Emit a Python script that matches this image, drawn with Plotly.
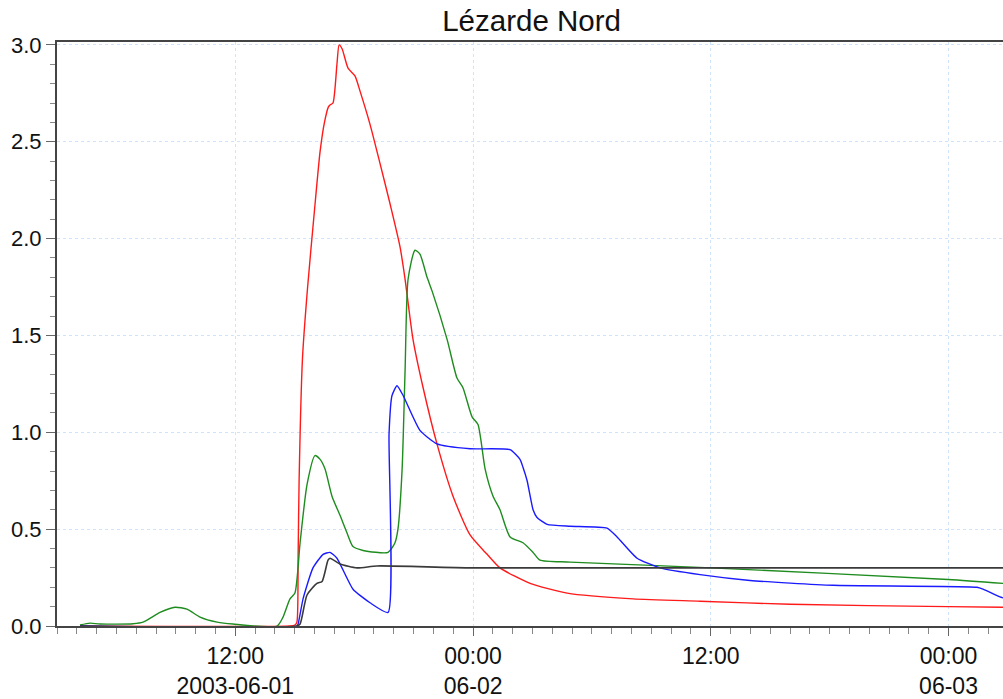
import pandas as pd
import plotly.graph_objects as go

# Hours counted from 2003-06-01 00:00
START = pd.Timestamp("2003-06-01 00:00")

red_hours = [4.16, 14.76, 15.01, 15.11, 15.17, 15.22, 15.39, 15.65, 16.0, 16.28, 16.50, 16.70,
             16.78, 16.93, 17.13, 17.24, 17.39, 17.69, 18.04, 18.30, 18.80, 19.30, 19.81, 20.31,
             20.57, 20.97, 21.48, 22.18, 22.99, 23.85, 24.71, 25.36, 26.88, 28.75, 32.08, 35.46,
             40.0, 47.98, 50.75]
red_values = [0.0, 0.0, 0.005, 0.02, 0.35, 0.75, 1.38, 1.75, 2.15, 2.45, 2.60, 2.68,
              2.69, 2.70, 2.90, 3.00, 2.98, 2.88, 2.84, 2.76, 2.59, 2.39, 2.18, 1.96,
              1.79, 1.48, 1.23, 0.94, 0.67, 0.47, 0.37, 0.30, 0.22, 0.17, 0.14, 0.128,
              0.112, 0.10, 0.097]

green_hours = [4.16, 4.67, 5.17, 6.84, 7.34, 8.20, 8.96, 9.56, 10.22, 11.08, 11.88, 14.11,
               14.41, 14.76, 15.01, 15.27, 15.62, 16.02, 16.28, 16.53, 16.88, 17.29, 17.64,
               17.94, 18.45, 19.71, 20.06, 20.21, 20.42, 20.57, 20.72, 21.07, 21.32, 21.68,
               21.93, 22.69, 23.19, 23.49, 23.95, 24.25, 24.61, 25.01, 25.36, 25.87, 26.52,
               27.03, 27.38, 28.90, 36.01, 47.98, 50.75]
green_values = [0.005, 0.015, 0.01, 0.012, 0.02, 0.07, 0.097, 0.087, 0.046, 0.02, 0.01, 0.0,
                0.046, 0.14, 0.17, 0.43, 0.73, 0.88, 0.86, 0.81, 0.67, 0.57, 0.48,
                0.41, 0.39, 0.38, 0.43, 0.50, 0.81, 1.32, 1.79, 1.94, 1.92, 1.80,
                1.73, 1.48, 1.28, 1.23, 1.08, 1.04, 0.81, 0.67, 0.60, 0.46, 0.43,
                0.38, 0.34, 0.33, 0.30, 0.24, 0.22]

blue_hours = [4.16, 15.11, 15.17, 15.42, 15.92, 16.43, 16.78, 17.13, 17.94, 18.80, 19.71, 19.76,
              19.91, 20.16, 20.47, 21.32, 22.18, 23.85, 25.87, 26.37, 26.52, 26.73, 27.03,
              27.23, 27.74, 28.90, 30.76, 31.27, 32.28, 33.44, 35.46, 37.98, 42.17, 49.44,
              49.74, 50.60, 50.75]
blue_values = [0.0, 0.0, 0.01, 0.14, 0.30, 0.37, 0.38, 0.35, 0.19, 0.12, 0.07, 0.99,
               1.19, 1.24, 1.19, 1.01, 0.94, 0.915, 0.91, 0.86, 0.82, 0.75, 0.60,
               0.56, 0.525, 0.515, 0.505, 0.46, 0.35, 0.30, 0.265, 0.235, 0.21, 0.20,
               0.19, 0.15, 0.145]

black_hours = [4.16, 15.11, 15.27, 15.62, 16.12, 16.38, 16.68, 16.78, 17.29, 18.14, 19.15, 24.0, 50.75]
black_values = [0.0, 0.0, 0.01, 0.16, 0.22, 0.23, 0.34, 0.35, 0.32, 0.30, 0.31, 0.30, 0.30]

tick_values = ["2003-06-01 12:00", "2003-06-02 00:00", "2003-06-02 12:00", "2003-06-03 00:00"]
tick_labels = ["12:00<br>2003-06-01", "00:00<br>06-02", "12:00", "00:00<br>06-03"]


def to_times(hours):
    return START + pd.to_timedelta(hours, unit="h")


series = [
    (red_hours, red_values, "#ff1a1a", 1.4, 0.6),
    (green_hours, green_values, "#1e8c1e", 1.4, 0.6),
    (blue_hours, blue_values, "#1a1aff", 1.4, 0.5),
    (black_hours, black_values, "#3a3a3a", 1.6, 0.6),
]

fig = go.Figure()
for hours, values, color, width, smooth in series:
    fig.add_trace(go.Scatter(
        x=to_times(hours), y=values, mode="lines",
        line=dict(color=color, width=width, shape="spline", smoothing=smooth),
        showlegend=False, hoverinfo="skip",
    ))

font = dict(family="Liberation Sans, Arial, sans-serif", color="#111111")
grid_color = "#cfe4fb"

fig.update_layout(
    width=1003, height=699,
    margin=dict(l=57, r=0, t=42, b=68),
    paper_bgcolor="white", plot_bgcolor="white",
    font=font,
    title=dict(text="Lézarde Nord", x=0.53, xanchor="center", y=1 - 21 / 699,
               yanchor="middle", font=dict(size=29.5, family=font["family"], color="#111111")),
)

fig.update_xaxes(
    type="date",
    range=["2003-06-01 03:00", START + pd.Timedelta(hours=50.75)],
    tickmode="array", tickvals=tick_values, ticktext=tick_labels,
    tickfont=dict(size=23), ticks="outside", ticklen=8, tickcolor="#666666",
    showgrid=True, gridcolor=grid_color, griddash="dot", gridwidth=1,
    showline=True, linecolor="#444444", linewidth=2, mirror=True,
    minor=dict(dtick=3600000, tick0="2003-06-01 00:00", ticks="outside",
               ticklen=6, tickcolor="#888888", showgrid=False),
    zeroline=False,
)

fig.update_yaxes(
    range=[0, 3.015],
    tickmode="linear", tick0=0, dtick=0.5, tickformat=".1f",
    tickfont=dict(size=22), ticks="outside", ticklen=9, tickcolor="#666666",
    showgrid=True, gridcolor=grid_color, griddash="dot", gridwidth=1,
    showline=True, linecolor="#444444", linewidth=2,
    minor=dict(dtick=0.1, ticks="outside", ticklen=5, tickcolor="#888888", showgrid=False),
    zeroline=False,
)

fig.write_html("out.html")
